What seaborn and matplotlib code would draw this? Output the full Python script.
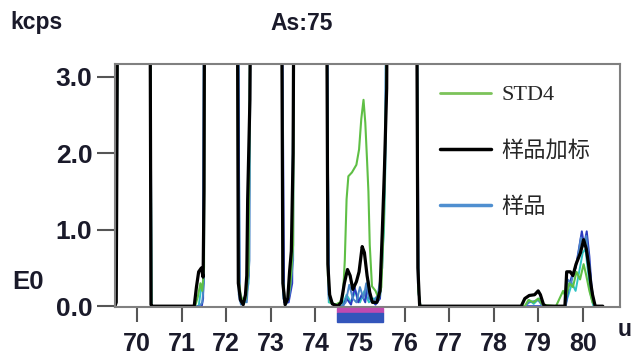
import matplotlib
matplotlib.use("Agg")
import matplotlib.pyplot as plt
from matplotlib.lines import Line2D
from matplotlib.patches import Rectangle
import seaborn as sns

# counts in kcps vs mass (u); 6.0 = off-scale peak
black_pts = [
    (69.50, 0.00), (69.53, 0.05), (69.55, 2.80), (69.57, 6.0),
    (70.28, 6.0), (70.31, 0.02), (70.33, 0.0), (71.28, 0.0), (71.33, 0.25), (71.38, 0.45),
    (71.44, 0.50), (71.48, 0.38), (71.50, 1.50), (71.52, 6.0),
    (72.24, 6.0), (72.27, 0.30), (72.32, 0.08), (72.38, 0.02), (72.43, 0.15), (72.46, 0.40),
    (72.48, 1.40), (72.53, 2.70), (72.57, 6.0),
    (73.23, 6.0), (73.27, 0.30), (73.32, 0.02), (73.38, 0.10), (73.42, 0.45), (73.46, 0.72),
    (73.50, 2.00), (73.53, 6.0),
    (74.24, 6.0), (74.28, 0.55), (74.32, 0.15), (74.38, 0.03), (74.50, 0.0), (74.58, 0.05),
    (74.65, 0.30), (74.72, 0.48), (74.78, 0.40), (74.84, 0.22), (74.92, 0.32), (74.98, 0.45),
    (75.05, 0.78), (75.10, 0.70), (75.16, 0.40), (75.22, 0.18), (75.28, 0.05), (75.38, 0.05),
    (75.45, 0.20), (75.50, 0.95), (75.55, 1.80), (75.60, 2.85), (75.63, 6.0),
    (76.26, 6.0), (76.30, 0.50), (76.34, 0.0), (78.62, 0.0), (78.70, 0.10), (78.80, 0.14),
    (78.92, 0.15), (79.00, 0.20), (79.05, 0.15), (79.12, 0.02), (79.18, 0.0), (79.60, 0.0),
    (79.64, 0.45), (79.72, 0.45), (79.78, 0.40), (79.85, 0.55), (79.95, 0.70), (80.02, 0.87),
    (80.08, 0.75), (80.13, 0.55), (80.18, 0.30), (80.22, 0.15), (80.28, 0.0), (80.45, 0.0),
]

std4_pts = [
    (69.50, 0.0), (69.54, 1.0), (69.57, 6.0), (70.28, 6.0), (70.32, 0.0), (71.30, 0.0),
    (71.36, 0.12), (71.42, 0.30), (71.46, 0.20), (71.50, 0.50), (71.52, 6.0),
    (72.24, 6.0), (72.27, 0.40), (72.32, 0.15), (72.38, 0.05), (72.44, 0.10), (72.50, 0.50),
    (72.56, 6.0),
    (73.23, 6.0), (73.27, 0.35), (73.32, 0.05), (73.38, 0.08), (73.44, 0.30), (73.50, 0.80),
    (73.53, 6.0),
    (74.24, 6.0), (74.28, 0.40), (74.34, 0.05), (74.45, 0.02), (74.55, 0.05), (74.62, 0.15),
    (74.66, 0.60), (74.70, 1.40), (74.74, 1.70), (74.82, 1.75), (74.92, 1.85), (74.98, 2.05),
    (75.03, 2.45), (75.08, 2.70), (75.12, 2.40), (75.16, 1.90), (75.19, 1.50), (75.22, 0.80),
    (75.27, 0.26), (75.35, 0.20), (75.42, 0.10), (75.48, 0.25), (75.54, 1.20), (75.59, 2.90),
    (75.62, 6.0),
    (76.26, 6.0), (76.31, 0.20), (76.36, 0.0), (78.70, 0.0), (78.78, 0.08), (78.90, 0.05),
    (79.00, 0.10), (79.10, 0.02), (79.40, 0.0), (79.48, 0.10), (79.56, 0.20), (79.62, 0.12),
    (79.70, 0.30), (79.78, 0.25), (79.86, 0.45), (79.94, 0.35), (80.02, 0.55), (80.08, 0.40),
    (80.15, 0.20), (80.22, 0.05), (80.30, 0.0), (80.45, 0.0),
]

sample_pts = [
    (69.50, 0.0), (69.55, 2.0), (69.57, 6.0), (70.28, 6.0), (70.32, 0.0), (71.40, 0.0),
    (71.46, 0.05), (71.50, 0.30), (71.52, 6.0),
    (72.24, 6.0), (72.28, 0.15), (72.33, 0.02), (72.40, 0.10), (72.46, 0.05), (72.52, 0.60),
    (72.56, 6.0),
    (73.23, 6.0), (73.28, 0.10), (73.34, 0.02), (73.42, 0.15), (73.50, 0.60), (73.53, 6.0),
    (74.24, 6.0), (74.30, 0.10), (74.38, 0.03), (74.60, 0.0), (74.68, 0.05), (74.76, 0.28),
    (74.84, 0.10), (74.92, 0.05), (75.00, 0.25), (75.08, 0.10), (75.14, 0.30), (75.20, 0.10),
    (75.30, 0.05), (75.40, 0.15), (75.50, 0.50), (75.56, 2.00), (75.62, 6.0),
    (76.26, 6.0), (76.30, 0.30), (76.35, 0.0), (78.70, 0.0), (78.80, 0.05), (79.00, 0.08),
    (79.10, 0.0), (79.62, 0.0), (79.66, 0.35), (79.74, 0.30), (79.80, 0.45), (79.88, 0.60),
    (79.96, 0.90), (80.02, 0.78), (80.08, 0.92), (80.14, 0.60), (80.20, 0.20), (80.26, 0.0),
    (80.45, 0.0),
]

navy_pts = [
    (69.50, 0.0), (69.56, 6.0), (70.29, 6.0), (70.32, 0.0), (71.45, 0.0), (71.48, 0.10),
    (71.51, 6.0),
    (72.25, 6.0), (72.30, 0.08), (72.36, 0.05), (72.44, 0.15), (72.50, 0.40), (72.56, 6.0),
    (73.23, 6.0), (73.30, 0.05), (73.40, 0.05), (73.48, 0.30), (73.53, 6.0),
    (74.24, 6.0), (74.30, 0.15), (74.40, 0.02), (74.62, 0.0), (74.70, 0.10), (74.80, 0.02),
    (74.88, 0.25), (74.96, 0.05), (75.04, 0.15), (75.12, 0.05), (75.18, 0.35), (75.25, 0.08),
    (75.35, 0.02), (75.45, 0.10), (75.55, 1.50), (75.59, 2.70), (75.62, 6.0),
    (76.26, 6.0), (76.32, 0.15), (76.36, 0.0), (79.62, 0.0), (79.68, 0.25), (79.76, 0.40),
    (79.84, 0.50), (79.90, 0.70), (79.98, 0.98), (80.03, 0.80), (80.09, 0.98), (80.15, 0.65),
    (80.20, 0.25), (80.26, 0.0), (80.45, 0.0),
]

cyan_pts = [
    (69.50, 0.0), (69.52, 0.15), (69.56, 6.0), (70.29, 6.0), (70.32, 0.0), (71.38, 0.0),
    (71.44, 0.25), (71.48, 0.30), (71.51, 6.0),
    (72.25, 6.0), (72.30, 0.20), (72.36, 0.05), (72.42, 0.05), (72.50, 0.30), (72.56, 6.0),
    (73.23, 6.0), (73.28, 0.15), (73.34, 0.03), (73.42, 0.20), (73.48, 0.60), (73.53, 6.0),
    (74.24, 6.0), (74.30, 0.05), (74.60, 0.0), (74.70, 0.15), (74.80, 0.05), (74.90, 0.20),
    (75.00, 0.05), (75.10, 0.20), (75.20, 0.05), (75.30, 0.10), (75.45, 0.10), (75.54, 1.00),
    (75.57, 1.80), (75.61, 6.0),
    (76.26, 6.0), (76.31, 0.25), (76.34, 0.0), (78.72, 0.0), (78.80, 0.08), (78.90, 0.03),
    (79.02, 0.10), (79.10, 0.0), (79.60, 0.0), (79.68, 0.15), (79.76, 0.30), (79.84, 0.20),
    (79.92, 0.45), (80.00, 0.70), (80.06, 0.75), (80.12, 0.45), (80.18, 0.15), (80.24, 0.0),
    (80.45, 0.0),
]

x_ticks = list(range(70, 81))
y_ticks = [0.0, 1.0, 2.0, 3.0]
integ_window = (74.48, 75.52)
legend_labels = ["STD4", "样品加标", "样品"]

sns.set_theme(style="white")
plt.rcParams["font.family"] = ["Liberation Sans", "DejaVu Sans"]

fig = plt.figure(figsize=(6.33, 3.59), dpi=100)
ax = fig.add_axes([0.182, 0.145, 0.797, 0.677])

series = [
    (cyan_pts, "#2ec4c4", 1.4),
    (navy_pts, "#2b3bbf", 1.4),
    (sample_pts, "#4a86c8", 1.4),
    (std4_pts, "#5fbf45", 1.5),
    (black_pts, "#000000", 2.3),
]
for pts, col, lw in series:
    xs = [p[0] for p in pts]
    ys = [p[1] for p in pts]
    sns.lineplot(x=xs, y=ys, ax=ax, color=col, lw=lw, estimator=None,
                 sort=False, legend=False)

ax.set_xlim(69.507, 80.83)
ax.set_ylim(-0.01, 3.17)
ax.set_xticks(x_ticks)
ax.set_yticks(y_ticks)
ax.set_xticklabels([str(t) for t in x_ticks])
ax.set_yticklabels([f"{t:.1f}" for t in y_ticks])
ax.set_xlabel("")
ax.set_ylabel("")
for s in ax.spines.values():
    s.set_color("#808080")
    s.set_linewidth(1.5)
ax.tick_params(axis="both", direction="out", color="#555555", width=1.5,
               labelcolor="#1a1a2a")
ax.tick_params(axis="x", length=11, pad=7, bottom=True, labelsize=18)
ax.tick_params(axis="y", length=13, pad=3.5, left=True, labelsize=19)
for lab in ax.get_xticklabels() + ax.get_yticklabels():
    lab.set_fontweight("bold")

# integration window bar under the axis
tr = ax.get_xaxis_transform()
w = integ_window[1] - integ_window[0]
ax.add_patch(Rectangle((integ_window[0], -0.025), w, 0.022, transform=tr,
                       color="#c04ab0", clip_on=False, zorder=5))
ax.add_patch(Rectangle((integ_window[0], -0.062), w, 0.037, transform=tr,
                       color="#3355bb", clip_on=False, zorder=5))

handles = [
    Line2D([], [], color="#7cc35a", lw=2),
    Line2D([], [], color="#000000", lw=2.5),
    Line2D([], [], color="#4f8fd0", lw=2.5),
]
ax.legend(handles, legend_labels, loc="upper left", bbox_to_anchor=(0.644, 0.914),
          frameon=False, handlelength=2.3, labelspacing=1.6, handletextpad=0.45,
          borderpad=0, borderaxespad=0,
          prop={"family": ["Liberation Serif", "Noto Sans CJK SC"], "size": 16})

txt = dict(fontsize=16.5, fontweight="bold", color="#1a1a2a")
fig.text(10 / 633, 1 - 23 / 359, "kcps", ha="left", va="center", **txt)
fig.text(302 / 633, 1 - 23 / 359, "As:75", ha="center", va="center", **txt)
fig.text(12 / 633, 1 - 282 / 359, "E0", ha="left", va="center",
         **{**txt, "fontsize": 18.5})
fig.text(618 / 633, 1 - 329 / 359, "u", ha="left", va="center", **txt)

fig.savefig("out.png", dpi=100)
